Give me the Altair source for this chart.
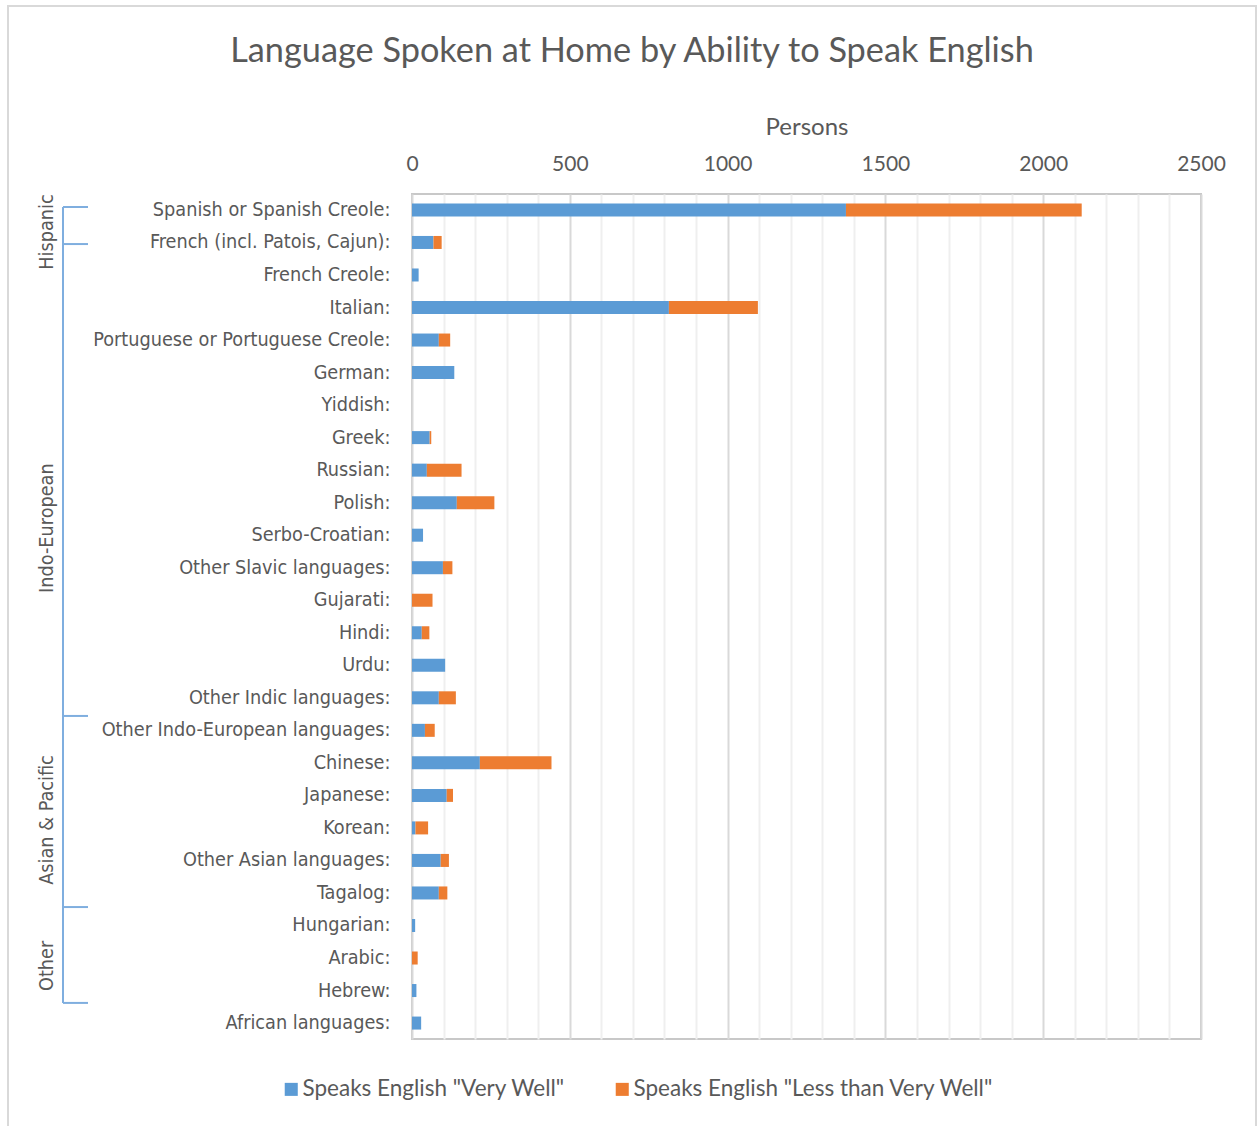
import altair as alt
import pandas as pd

languages = [
    "Spanish or Spanish Creole:", "French (incl. Patois, Cajun):", "French Creole:", "Italian:",
    "Portuguese or Portuguese Creole:", "German:", "Yiddish:", "Greek:", "Russian:", "Polish:",
    "Serbo-Croatian:", "Other Slavic languages:", "Gujarati:", "Hindi:", "Urdu:",
    "Other Indic languages:", "Other Indo-European languages:", "Chinese:", "Japanese:", "Korean:",
    "Other Asian languages:", "Tagalog:", "Hungarian:", "Arabic:", "Hebrew:", "African languages:",
]
very_well = [1375, 68, 21, 814, 85, 134, 0, 56, 47, 142, 35, 98, 0, 31, 105, 85, 41, 215, 110, 11, 91, 85, 10, 0, 14, 29]
less_than = [747, 26, 0, 282, 36, 0, 0, 5, 110, 119, 0, 30, 65, 24, 0, 54, 31, 227, 20, 40, 26, 27, 0, 18, 0, 0]

series_names = ['Speaks English "Very Well"', 'Speaks English "Less than Very Well"']
series_colors = ["#5B9BD5", "#ED7D31"]

group_names = ["Hispanic", "Indo-European", "Asian & Pacific", "Other"]
group_label_rows = [1.17, 10.28, 19.26, 23.75]
group_tick_rows = [0.40, 1.54, 16.06, 21.94, 24.89]

x_ticks = list(range(0, 2501, 100))

rows = []
for i, lang in enumerate(languages):
    rows.append({"lang": lang, "series": series_names[0], "value": very_well[i], "ord": 0})
    rows.append({"lang": lang, "series": series_names[1], "value": less_than[i], "ord": 1})
df = pd.DataFrame(rows)

W, H = 789, 845
LEFT, TOP = 412, 194
N = len(languages)

TXT = "#595959"
COND_FONT = "Liberation Sans Narrow, DejaVu Sans Condensed, Roboto, sans-serif"
MAIN_FONT = "Lato, Open Sans, sans-serif"

bars = alt.Chart(df).mark_bar().encode(
    x=alt.X(
        "value:Q", stack="zero",
        scale=alt.Scale(domain=[0, 2500], nice=False),
        axis=alt.Axis(
            orient="top", title="Persons", values=x_ticks, format="d",
            labelExpr="datum.value % 500 === 0 ? datum.label : ''",
            labelOverlap=False, labelFlush=False, ticks=False, domain=False,
            labelFont=MAIN_FONT, labelFontSize=21, labelColor=TXT, labelPadding=20,
            titleFont=MAIN_FONT, titleFontSize=24, titleColor=TXT, titleFontWeight="normal",
            titlePadding=14,
            gridColor={"condition": {"test": "datum.value % 500 === 0", "value": "#d9d9d9"},
                       "value": "#efefef"},
            gridWidth=2,
        ),
    ),
    y=alt.Y(
        "lang:N", sort=languages,
        scale=alt.Scale(paddingInner=0.6, paddingOuter=0.29),
        axis=alt.Axis(
            title=None, ticks=False, domain=False, labelFont=COND_FONT, labelFontSize=19.7,
            labelColor=TXT, labelPadding=22, labelLimit=400,
        ),
    ),
    color=alt.Color(
        "series:N",
        scale=alt.Scale(domain=series_names, range=series_colors),
        legend=alt.Legend(
            title=None, orient="none", direction="horizontal", legendX=-132, legendY=884,
            symbolType="square", symbolSize=170, symbolStrokeWidth=0, labelFont=MAIN_FONT,
            labelFontSize=22.5, labelColor=TXT, labelOffset=0, columnPadding=46, padding=0,
            labelLimit=0,
        ),
    ),
    order=alt.Order("ord:Q"),
)

yq = alt.Scale(domain=[0, N], reverse=True, nice=False, zero=False)

bracket_line = alt.Chart(pd.DataFrame({"a": [group_tick_rows[0]], "b": [group_tick_rows[-1]]})).mark_rule(
    color="#7FAEDF", strokeWidth=2
).encode(
    x=alt.value(63 - LEFT),
    y=alt.Y("a:Q", scale=yq, axis=None),
    y2="b:Q",
)

bracket_ticks = alt.Chart(pd.DataFrame({"r": group_tick_rows})).mark_rule(
    color="#7FAEDF", strokeWidth=2
).encode(
    x=alt.value(63 - LEFT), x2=alt.value(88 - LEFT),
    y=alt.Y("r:Q", scale=yq, axis=None),
)

group_text = alt.Chart(pd.DataFrame({"g": group_names, "r": group_label_rows})).mark_text(
    angle=270, font=COND_FONT, fontSize=19.7, color=TXT, align="center", baseline="middle"
).encode(
    x=alt.value(47 - LEFT),
    y=alt.Y("r:Q", scale=yq, axis=None),
    text="g:N",
)

title = alt.Chart(pd.DataFrame({"t": ["Language Spoken at Home by Ability to Speak English"]})).mark_text(
    font=MAIN_FONT, fontSize=34.3, color=TXT, align="center", baseline="middle"
).encode(
    x=alt.value(632 - LEFT), y=alt.value(52 - TOP), text="t:N"
)

border = alt.Chart(pd.DataFrame({"k": [1]})).mark_rect(
    fill=None, stroke="#d9d9d9", strokeWidth=2
).encode(
    x=alt.value(8 - LEFT), x2=alt.value(1256 - LEFT),
    y=alt.value(6 - TOP), y2=alt.value(1140 - TOP),
)

chart = alt.layer(border, bars, bracket_line, bracket_ticks, group_text, title).resolve_scale(
    y="independent"
).properties(
    width=W, height=H,
    autosize=alt.AutoSizeParams(type="none"),
    padding={"left": LEFT, "top": TOP, "right": 1259 - LEFT - W, "bottom": 1126 - TOP - H},
    background="white",
).configure_view(
    stroke="#c8c8c8", strokeWidth=2
)

chart.save("out.html", embed_options={"renderer": "svg", "actions": False})
